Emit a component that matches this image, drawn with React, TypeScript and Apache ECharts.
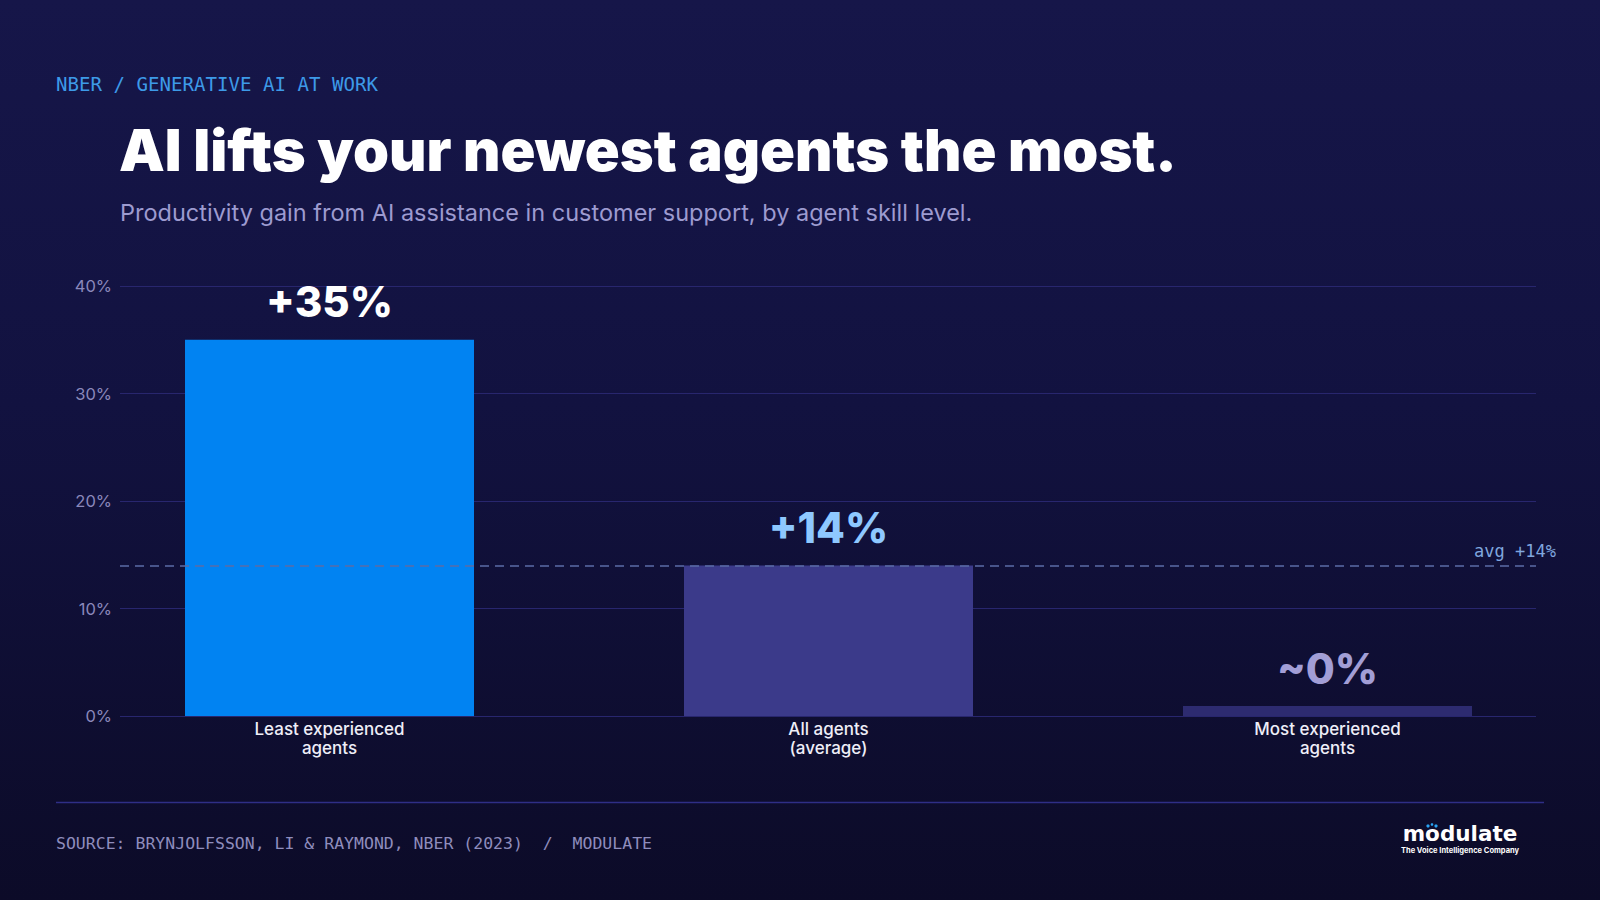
import React, { useEffect, useRef } from "react";
import * as echarts from "echarts";

// Chart data
const categories = ["Least experienced\nagents", "All agents\n(average)", "Most experienced\nagents"];
const gains = [35, 14, 0];
const gainLabels = ["+35%", "+14%", "~0%"];
const barColors = ["#0183f2", "#3b3a8a", "#2d2b70"];
const labelColors = ["#ffffff", "#8ec8ff", "#a29ed6"];
const averageGain = 14;
const yTicks = { min: 0, max: 40, interval: 10 };

const MONO = "'DejaVu Sans Mono', 'Liberation Mono', monospace";
const SANS = "Inter, 'Noto Sans', sans-serif";

export default function App() {
  const ref = useRef<HTMLDivElement>(null);

  useEffect(() => {
    if (!ref.current) return;
    const chart = echarts.init(ref.current, undefined, { renderer: "svg" });

    const gridTop = 286;
    const gridHeight = 430;

    const option: any = {
      animation: false,
      backgroundColor: "transparent",
      grid: [
        { left: 120, right: 64, top: gridTop, height: gridHeight },
        { left: 80, right: 23, top: gridTop, height: gridHeight },
      ],
      xAxis: [
        { type: "category", gridIndex: 0, data: categories, show: false },
        {
          type: "category",
          gridIndex: 1,
          data: categories,
          axisLine: { show: false },
          axisTick: { show: false },
          axisLabel: {
            color: "#eeeef8",
            fontFamily: SANS,
            fontWeight: 500,
            fontSize: 17,
            lineHeight: 19,
            margin: 3,
          },
        },
      ],
      yAxis: [
        {
          type: "value",
          gridIndex: 0,
          min: yTicks.min,
          max: yTicks.max,
          interval: yTicks.interval,
          axisLine: { show: false },
          axisTick: { show: false },
          axisLabel: {
            formatter: "{value}%",
            color: "#8a88bb",
            fontFamily: SANS,
            fontSize: 16.5,
            margin: 8,
          },
          splitLine: { lineStyle: { color: "#28266e", width: 1 } },
        },
        {
          type: "value",
          gridIndex: 1,
          min: yTicks.min,
          max: yTicks.max,
          interval: yTicks.interval,
          show: false,
          splitLine: { show: false },
        },
      ],
      series: [
        {
          type: "line",
          xAxisIndex: 0,
          yAxisIndex: 0,
          data: categories.map(() => averageGain),
          showSymbol: false,
          symbol: "none",
          lineStyle: { opacity: 0 },
          silent: true,
          z: 1,
          markLine: {
            silent: true,
            symbol: "none",
            data: [{ yAxis: averageGain }],
            lineStyle: { color: "#5b6ca6", type: [9, 6], width: 1.5 },
            label: {
              show: true,
              position: "insideEndTop",
              formatter: `avg +${averageGain}%`,
              color: "#7fa6df",
              fontFamily: MONO,
              fontSize: 17,
              distance: [-20, 6],
            },
          },
        },
        {
          type: "bar",
          xAxisIndex: 1,
          yAxisIndex: 1,
          barWidth: 289,
          barMinHeight: 10,
          z: 3,
          data: gains.map((v, i) => ({
            value: v,
            itemStyle: { color: barColors[i] },
            label: {
              show: true,
              position: "top",
              distance: 16,
              formatter: gainLabels[i],
              color: labelColors[i],
              fontFamily: SANS,
              fontWeight: 800,
              fontSize: 42,
              lineHeight: 44,
            },
          })),
        },
      ],
      graphic: [
        {
          type: "text",
          left: 56,
          top: 75,
          style: {
            text: "NBER / GENERATIVE AI AT WORK",
            fill: "#3d9ae8",
            font: `19.1px ${MONO}`,
          },
        },
        {
          type: "text",
          x: 119,
          y: 150,
          style: {
            text: "AI lifts your newest agents the most.",
            fill: "#ffffff",
            font: `900 57.7px ${SANS}`,
            verticalAlign: "middle",
          },
        },
        {
          type: "text",
          x: 120,
          y: 212,
          style: {
            text: "Productivity gain from AI assistance in customer support, by agent skill level.",
            fill: "#9d9bd0",
            font: `23.5px ${SANS}`,
            verticalAlign: "middle",
          },
        },
        {
          type: "line",
          shape: { x1: 56, y1: 802.5, x2: 1544, y2: 802.5 },
          style: { stroke: "#2f2e86", lineWidth: 1.5 },
        },
        {
          type: "text",
          x: 56,
          y: 843,
          style: {
            text: "SOURCE: BRYNJOLFSSON, LI & RAYMOND, NBER (2023)  /  MODULATE",
            fill: "#8f8dbd",
            font: `16.5px ${MONO}`,
            verticalAlign: "middle",
          },
        },
        {
          type: "text",
          x: 1460,
          y: 833,
          style: {
            text: "modulate",
            fill: "#ffffff",
            font: `bold 21.5px 'DejaVu Sans', sans-serif`,
            align: "center",
            verticalAlign: "middle",
          },
        },
        {
          type: "circle",
          shape: { cx: 1428, cy: 826, r: 1.6 },
          style: { fill: "#2aa4f4" },
        },
        {
          type: "circle",
          shape: { cx: 1432, cy: 824.5, r: 1.3 },
          style: { fill: "#2aa4f4" },
        },
        {
          type: "circle",
          shape: { cx: 1436, cy: 826, r: 1.6 },
          style: { fill: "#2aa4f4" },
        },
        {
          type: "text",
          x: 1460,
          y: 850,
          style: {
            text: "The Voice Intelligence Company",
            fill: "#ffffff",
            font: `700 7.5px ${SANS}`,
            align: "center",
            verticalAlign: "middle",
          },
        },
      ],
    };

    chart.setOption(option);
    return () => chart.dispose();
  }, []);

  return (
    <div
      style={{
        position: "absolute",
        left: 0,
        top: 0,
        width: 1600,
        height: 900,
        background: "linear-gradient(180deg, #161649 0%, #121240 45%, #0c0b28 100%)",
      }}
    >
      <div ref={ref} style={{ width: 1600, height: 900 }} />
    </div>
  );
}
